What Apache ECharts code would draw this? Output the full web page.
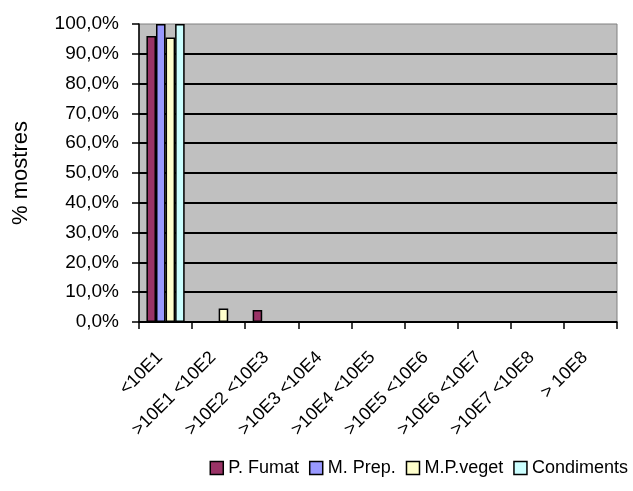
<!DOCTYPE html>
<html>
<head>
<meta charset="utf-8">
<script src="https://cdn.jsdelivr.net/npm/echarts@6/dist/echarts.min.js"></script>
<style>
  html, body { margin: 0; padding: 0; background: #fff; }
  #chart { width: 633px; height: 491px; }
</style>
</head>
<body>
<div id="chart"></div>
<script>
// categories (x axis)
const categories = ['<10E1', '>10E1 <10E2', '>10E2 <10E3', '>10E3 <10E4', '>10E4 <10E5',
  '>10E5 <10E6', '>10E6 <10E7', '>10E7 <10E8', '> 10E8']
// series values, fraction of samples
const pFumat = [0.96, 0, 0.04, 0, 0, 0, 0, 0, 0]
const mPrep = [1.0, 0, 0, 0, 0, 0, 0, 0, 0]
const mpVeget = [0.955, 0.045, 0, 0, 0, 0, 0, 0, 0]
const condiments = [1.0, 0, 0, 0, 0, 0, 0, 0, 0]
const seriesNames = ['P. Fumat', 'M. Prep.', 'M.P.veget', 'Condiments']
const seriesColors = ['#993366', '#9999FF', '#FFFFCC', '#CCFFFF']

const font = 'Liberation Sans, Arial, sans-serif'
const chart = echarts.init(document.getElementById('chart'))

function bar(name, data, color) {
  return {
    name: name,
    type: 'bar',
    data: data,
    barGap: '0%',
    barCategoryGap: '28%',
    itemStyle: { color: color, borderColor: '#000', borderWidth: 1.5 }
  }
}

chart.setOption({
  animation: false,
  grid: {
    left: 139,
    right: 16,
    top: 24,
    bottom: 169,
    show: true,
    backgroundColor: '#C0C0C0',
    borderColor: '#808080',
    borderWidth: 1
  },
  legend: {
    bottom: 9,
    right: 0,
    itemGap: 10,
    itemWidth: 13,
    itemHeight: 13,
    icon: 'rect',
    textStyle: { fontFamily: font, fontSize: 18, color: '#000' },
    data: seriesNames.map((n, i) => ({
      name: n,
      itemStyle: { color: seriesColors[i], borderColor: '#000', borderWidth: 1.5 }
    }))
  },
  xAxis: {
    type: 'category',
    data: categories,
    axisLine: { lineStyle: { color: '#000', width: 1.5 } },
    axisTick: { show: true, length: 7, lineStyle: { color: '#000', width: 1.5 } },
    axisLabel: {
      rotate: 45,
      interval: 0,
      margin: 27,
      padding: [0, 8, 0, 0],
      fontFamily: font,
      fontSize: 18,
      color: '#000'
    }
  },
  yAxis: {
    type: 'value',
    min: 0,
    max: 1,
    interval: 0.1,
    name: '% mostres',
    nameLocation: 'middle',
    nameGap: 107,
    nameTextStyle: { fontFamily: font, fontSize: 22, color: '#000' },
    axisLine: { show: true, lineStyle: { color: '#000', width: 1.5 } },
    axisTick: { show: true, length: 7, lineStyle: { color: '#000', width: 1.5 } },
    axisLabel: {
      margin: 20,
      fontFamily: font,
      fontSize: 19,
      color: '#000',
      formatter: v => (v * 100).toFixed(1).replace('.', ',') + '%'
    },
    splitLine: { show: true, showMaxLine: false, lineStyle: { color: '#000', width: 2 } }
  },
  series: [
    bar(seriesNames[0], pFumat, seriesColors[0]),
    bar(seriesNames[1], mPrep, seriesColors[1]),
    bar(seriesNames[2], mpVeget, seriesColors[2]),
    bar(seriesNames[3], condiments, seriesColors[3])
  ]
})
</script>
</body>
</html>
